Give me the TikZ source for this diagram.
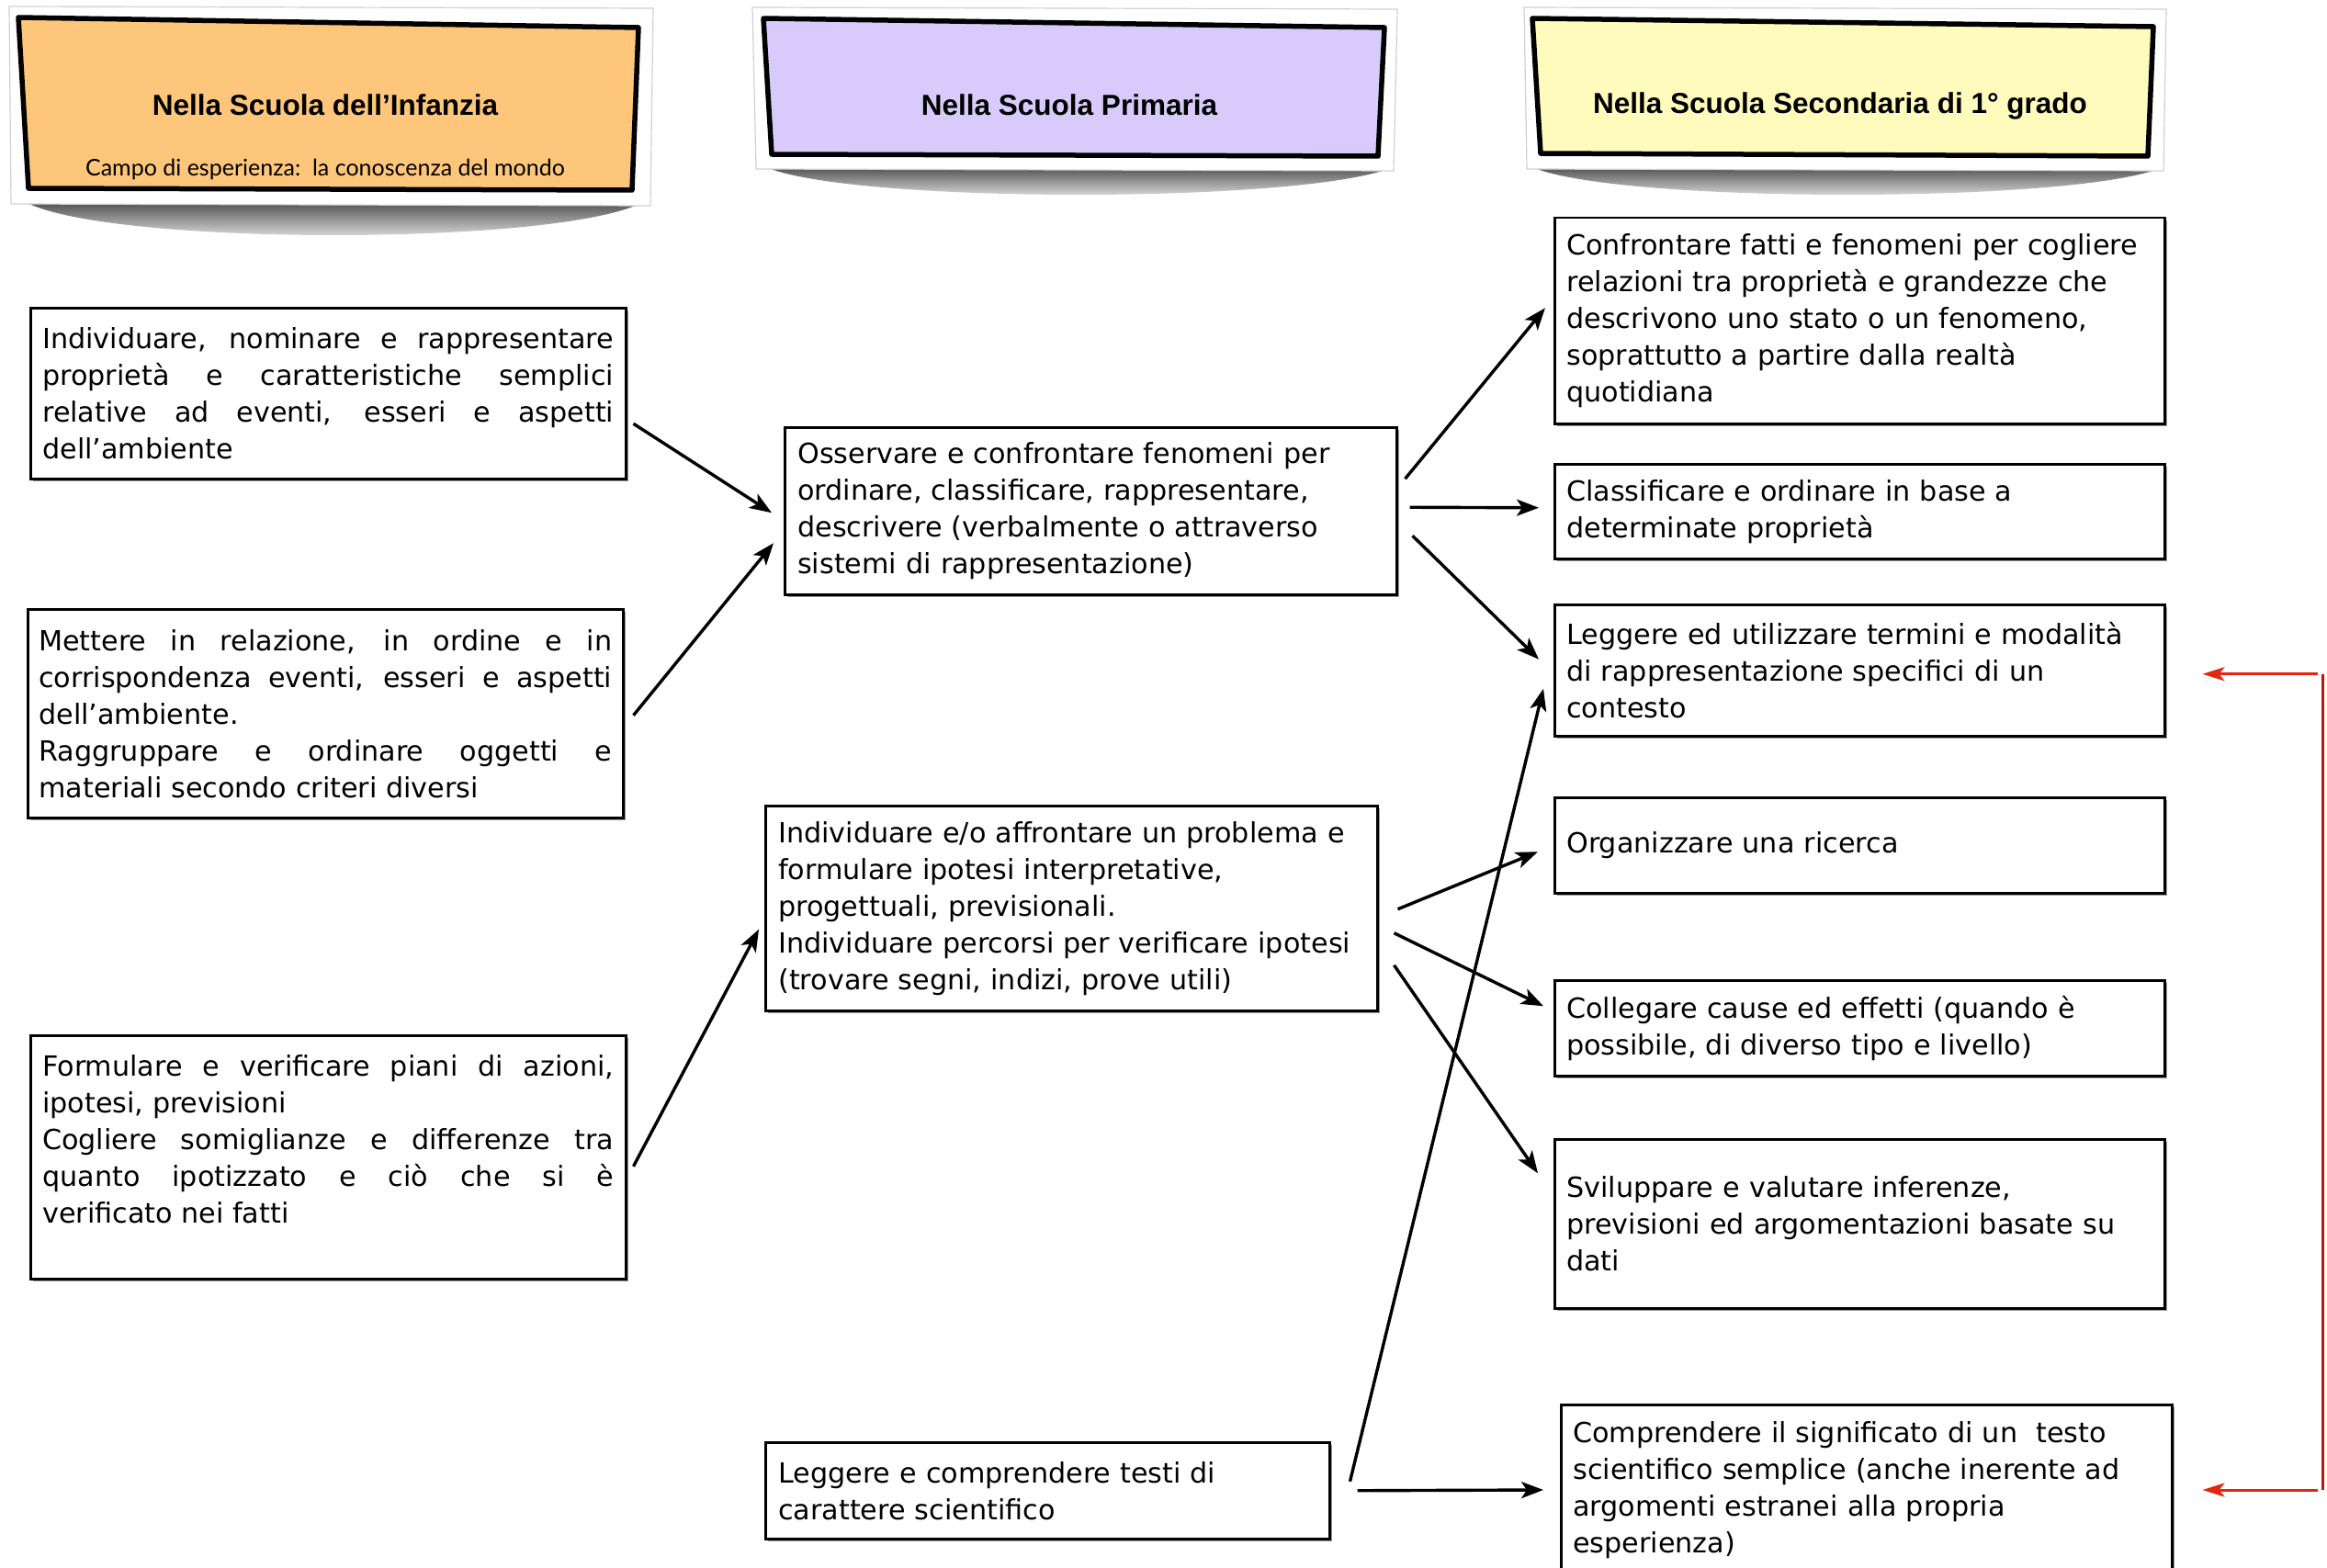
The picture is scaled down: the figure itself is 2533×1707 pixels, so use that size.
\documentclass[tikz,border=0pt]{standalone}
\usepackage{fontspec}
\usetikzlibrary{arrows.meta,calc,shadows}
\newfontfamily\bodyf{DejaVu Sans}
\newfontfamily\hdrf{Liberation Sans}
\newfontfamily\subf{Lato}
\definecolor{orgc}{HTML}{FEC67A}
\definecolor{lavc}{HTML}{D8CBFB}
\definecolor{yelc}{HTML}{FFFBBD}
\definecolor{redarr}{HTML}{E3260F}
\definecolor{redln}{HTML}{B71C05}
\begin{document}
\begin{tikzpicture}[x=1pt,y=-1pt,
  box/.style={draw, line width=2.5pt, fill=white, anchor=north west, inner xsep=13pt, inner ysep=0pt,
    font=\bodyf\fontsize{30.2}{40}\selectfont,
    drop shadow={shadow xshift=2.5pt, shadow yshift=-2.5pt, fill=black!40, opacity=1}},
  jbox/.style={box, align=justify},
  lbox/.style={box, align=left},
  arr/.style={line width=3.4pt, -{Stealth[length=24pt,width=18pt,inset=6pt]}},
  rarr/.style={line width=3pt, draw=redarr, -{Stealth[length=24pt,width=15pt,inset=6pt]}},
  redline/.style={line width=3.5pt, draw=redln},
  hshadow/.style={top color=black!68, bottom color=white},
  hframe/.style={fill=white, draw=black!18, line width=1.2pt},
  hcard/.style={draw=black, line width=5.5pt, line join=round},
  htitle/.style={font=\hdrf\bfseries\fontsize{31.5}{36}\selectfont, inner sep=0pt},
  hsub/.style={font=\subf\fontsize{25}{28}\selectfont, inner sep=0pt}
]
\useasboundingbox (0,0) rectangle (2533,1707);

% ---------- headers ----------
\shade[hshadow] (28,220) -- (700,220) .. controls (610,268) and (118,268) .. (28,220) -- cycle;
\filldraw[hframe] (10,7) -- (711,9) -- (708,224) -- (12,222) -- cycle;
\filldraw[hcard, fill=orgc] (20,19) -- (695,30) -- (688,207) -- (31,205) -- cycle;
\node[htitle] (H1) at (354,114) {Nella Scuola dell’Infanzia};
\node[hsub] (H1s) at (354,184) {Campo di esperienza:\ \ la conoscenza del mondo};

\shade[hshadow] (834,182) -- (1516,182) .. controls (1420,222) and (928,222) .. (834,182) -- cycle;
\filldraw[hframe] (819,8) -- (1521,10) -- (1517,186) -- (823,184) -- cycle;
\filldraw[hcard, fill=lavc] (831,20) -- (1507,30) -- (1500,170) -- (840,168) -- cycle;
\node[htitle] (H2) at (1164,114) {Nella Scuola Primaria};

\shade[hshadow] (1668,182) -- (2354,182) .. controls (2262,222) and (1760,222) .. (1668,182) -- cycle;
\filldraw[hframe] (1659,8) -- (2358,10) -- (2355,186) -- (1662,184) -- cycle;
\filldraw[hcard, fill=yelc] (1668,20) -- (2344,29) -- (2338,170) -- (1677,167) -- cycle;
\node[htitle] (H3) at (2003,115) {Nella Scuola Secondaria di 1° grado};

% ---------- left column ----------
\node[jbox, text width=622pt, minimum height=186pt] (L1) at (32,334)
 {Individuare, nominare e rappresentare\linebreak proprietà e caratteristiche semplici\linebreak relative ad eventi, esseri e aspetti\linebreak dell’ambiente};
\node[jbox, minimum height=227pt, inner xsep=12pt, text width=624pt] (L2) at (29,662)
 {Mettere in relazione, in ordine e in\linebreak corrispondenza eventi, esseri e aspetti\linebreak dell’ambiente.\par\noindent Raggruppare e ordinare oggetti e\linebreak materiali secondo criteri diversi};
\node[jbox, text width=622pt, minimum height=265pt] (L3) at (32,1126)
 {Formulare e verificare piani di azioni,\linebreak ipotesi, previsioni\par\noindent Cogliere somiglianze e differenze tra\linebreak quanto ipotizzato e ciò che si è\linebreak verificato nei fatti\par\noindent\mbox{}};

% ---------- middle column ----------
\node[lbox, text width=638pt, inner xsep=14pt, minimum height=182pt] (M1) at (853,464)
 {Osservare e confrontare fenomeni per\\ ordinare, classificare, rappresentare,\\ descrivere (verbalmente o attraverso\\ sistemi di rappresentazione)};
\node[lbox, text width=638pt, inner xsep=14pt, minimum height=223pt] (M2) at (832,876)
 {Individuare e/o affrontare un problema e\\ formulare ipotesi interpretative,\\ progettuali, previsionali.\\ Individuare percorsi per verificare ipotesi\\ (trovare segni, indizi, prove utili)};
\node[lbox, text width=586pt, inner xsep=14pt, minimum height=105pt] (M3) at (832,1569)
 {Leggere e comprendere testi di\\ carattere scientifico};

% ---------- right column ----------
\node[lbox, text width=638pt, minimum height=224pt] (R1) at (1691,236)
 {Confrontare fatti e fenomeni per cogliere\\ relazioni tra proprietà e grandezze che\\ descrivono uno stato o un fenomeno,\\ soprattutto a partire dalla realtà\\ quotidiana};
\node[lbox, text width=638pt, minimum height=103pt] (R2) at (1691,504)
 {Classificare e ordinare in base a\\ determinate proprietà};
\node[lbox, text width=638pt, minimum height=143pt] (R3) at (1691,657)
 {Leggere ed utilizzare termini e modalità\\ di rappresentazione specifici di un\\ contesto};
\node[lbox, text width=638pt, minimum height=104pt] (R4) at (1691,867)
 {Organizzare una ricerca};
\node[lbox, text width=638pt, minimum height=104pt] (R5) at (1691,1066)
 {Collegare cause ed effetti (quando è\\ possibile, di diverso tipo e livello)};
\node[lbox, text width=638pt, minimum height=184pt] (R6) at (1691,1239)
 {Sviluppare e valutare inferenze,\\ previsioni ed argomentazioni basate su\\ dati};
\node[lbox, text width=639pt, minimum height=185pt] (R7) at (1698,1528)
 {Comprendere il significato di un\ \ testo\\ scientifico semplice (anche inerente ad\\ argomenti estranei alla propria\\ esperienza)};

% ---------- connectors ----------
\draw[arr] ($(L1.east)+(7,33)$) -- ($(M1.west)+(-13,2)$);
\draw[arr] ($(L2.east)+(10,2)$) -- ($(M1.west)+(-11,35)$);
\draw[arr] ($(L3.east)+(7,10)$) -- ($(M2.west)+(-6,23)$);

\draw[arr] ($(M1.east)+(8,-35)$) -- ($(R1.west)+(-9,-14)$);
\draw[arr] ($(M1.east)+(13,-4)$) -- ($(R2.west)+(-16,-4)$);
\draw[arr] ($(M1.east)+(16,27)$) -- ($(R3.west)+(-16,-12)$);

\draw[arr] ($(M2.east)+(21,1)$) -- ($(R4.west)+(-17,7)$);
\draw[arr] ($(M2.east)+(17,27)$) -- ($(R5.west)+(-11,-24)$);
\draw[arr] ($(M2.east)+(17,62)$) -- ($(R6.west)+(-17,-55)$);

\draw[arr] ($(M3.east)+(21,-10)$) -- ($(R3.west)+(-11,20)$);
\draw[arr] ($(M3.east)+(29,0)$) -- ($(R7.north west)+(-18,94)$);

% ---------- red bracket ----------
\coordinate (rt) at ($(R3.east)+(171,4)$);
\coordinate (rb) at ($(R7.north east)+(163,94)$);
\draw[redline] (rt) -- (rb);
\draw[rarr] ($(rt)+(-6,0)$) -- ($(R3.east)+(40,4)$);
\draw[rarr] ($(rb)+(-6,0)$) -- ($(R7.north east)+(32,94)$);
\end{tikzpicture}
\end{document}
